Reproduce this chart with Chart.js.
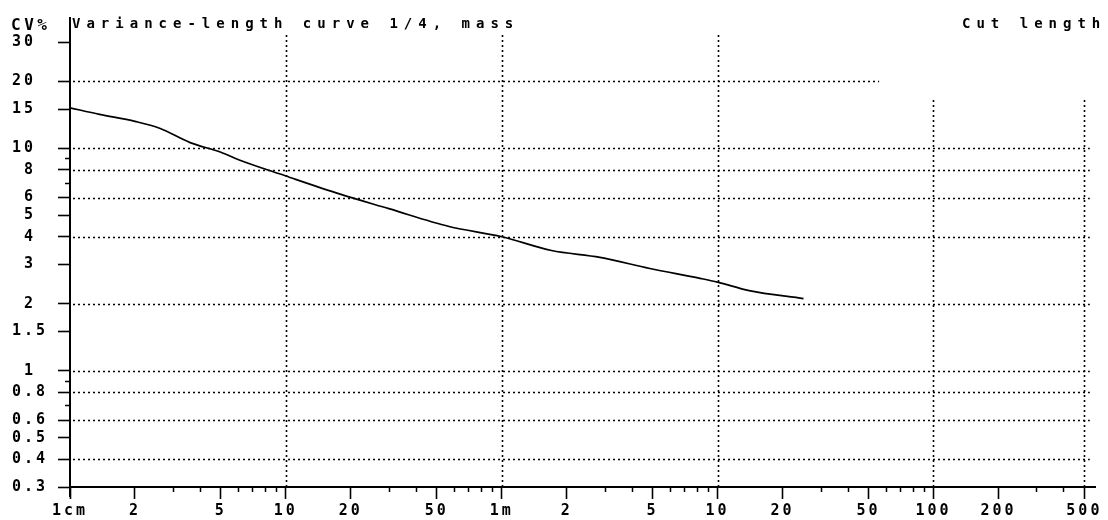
<!DOCTYPE html>
<html>
<head>
<meta charset="utf-8">
<title>Variance-length curve 1/4, mass</title>
<script src="https://cdn.jsdelivr.net/npm/chart.js@4.4.1/dist/chart.umd.min.js"></script>
<style>
  html, body { margin: 0; padding: 0; background: #fff; }
  #wrap { width: 1108px; height: 520px; }
</style>
</head>
<body>
<div id="wrap"><canvas id="cvChart"></canvas></div>
<script>
// ============================================================
// Variance-length curve (CV% against cut length, log-log)
// ============================================================

// ── Curve data ───────────────────────────────────────────────
// Cut length in metres, CV in percent
const cutLength = [0.01, 0.0137, 0.02, 0.026, 0.036, 0.05, 0.06, 0.1, 0.18,
                   0.3, 0.57, 1, 1.7, 2.85, 4.85, 8.3, 10, 14, 25];
const cvPercent = [15.2, 14.2, 13.2, 12.3, 10.6, 9.6, 8.9, 7.5, 6.2,
                   5.35, 4.45, 4.0, 3.47, 3.23, 2.88, 2.6, 2.5, 2.29, 2.11];

// ── Axis ticks ───────────────────────────────────────────────
const xTicks      = [0.01, 0.02, 0.05, 0.1, 0.2, 0.5, 1, 2, 5, 10, 20, 50, 100, 200, 500];
const xTickLabels = ['1cm', '2', '5', '10', '20', '50', '1m', '2', '5', '10', '20', '50', '100', '200', '500'];
const xMinorTicks = [0.03, 0.04, 0.06, 0.07, 0.08, 0.09, 0.3, 0.4, 0.6, 0.7, 0.8, 0.9,
                     3, 4, 6, 7, 8, 9, 30, 40, 60, 70, 80, 90, 300, 400];

const yTicks      = [30, 20, 15, 10, 8, 6, 5, 4, 3, 2, 1.5, 1, 0.8, 0.6, 0.5, 0.4, 0.3];
const yTickLabels = ['30', '20', '15', '10', ' 8', ' 6', ' 5', ' 4', ' 3', ' 2', '1.5', ' 1',
                     '0.8', '0.6', '0.5', '0.4', '0.3'];
const yMinorTicks = [9, 7, 0.9, 0.7];

// ── Dotted grid ──────────────────────────────────────────────
// Horizontal lines (CV%) and the length where each one stops,
// vertical lines (m) and the CV% they reach up to
const hGridValues = [20, 10, 8, 6, 4, 2, 1, 0.8, 0.6, 0.4];
const hGridEnds   = [56, 530, 530, 530, 530, 530, 530, 530, 530, 530];
const vGridValues = [0.1, 1, 10, 100, 500];
const vGridTops   = [33, 33, 33, 17, 17];

const MONO = "'DejaVu Sans Mono', 'Liberation Mono', monospace";


// ── Plugin: dotted grid lines ────────────────────────────────
const dottedGrid = {
    id: 'dottedGrid',
    beforeDatasetsDraw(chart) {
        const { ctx, chartArea, scales: { x, y } } = chart;
        ctx.save();
        ctx.strokeStyle = '#000';
        ctx.lineWidth = 1.6;
        ctx.setLineDash([2, 3]);

        hGridValues.forEach((v, i) => {
            const py = Math.round(y.getPixelForValue(v)) + 0.5;
            ctx.beginPath();
            ctx.moveTo(chartArea.left + 3, py);
            ctx.lineTo(x.getPixelForValue(hGridEnds[i]), py);
            ctx.stroke();
        });

        vGridValues.forEach((v, i) => {
            const px = Math.round(x.getPixelForValue(v)) + 0.5;
            ctx.beginPath();
            ctx.moveTo(px, chartArea.bottom);
            ctx.lineTo(px, y.getPixelForValue(vGridTops[i]));
            ctx.stroke();
        });
        ctx.restore();
    }
};

// ── Plugin: minor ticks + header texts ───────────────────────
const extras = {
    id: 'extras',
    beforeDraw(chart) {
        // wide letter spacing like the old plotter font
        chart.ctx.letterSpacing = '3px';
    },
    afterDraw(chart) {
        const { ctx, chartArea, scales: { x, y } } = chart;
        ctx.save();
        ctx.strokeStyle = '#000';
        ctx.lineWidth = 1.5;

        // y axis runs a little past the x axis
        ctx.lineWidth = 2;
        ctx.beginPath();
        ctx.moveTo(chartArea.left, chartArea.bottom);
        ctx.lineTo(chartArea.left, chartArea.bottom + 10);
        ctx.stroke();
        ctx.lineWidth = 1.5;

        // short ticks under the x axis
        xMinorTicks.forEach(v => {
            const px = Math.round(x.getPixelForValue(v)) + 0.5;
            ctx.beginPath();
            ctx.moveTo(px, chartArea.bottom);
            ctx.lineTo(px, chartArea.bottom + 5);
            ctx.stroke();
        });

        // short ticks left of the y axis
        yMinorTicks.forEach(v => {
            const py = Math.round(y.getPixelForValue(v)) + 0.5;
            ctx.beginPath();
            ctx.moveTo(chartArea.left, py);
            ctx.lineTo(chartArea.left - 5, py);
            ctx.stroke();
        });

        // header line
        ctx.fillStyle = '#000';
        ctx.textBaseline = 'alphabetic';
        ctx.textAlign = 'left';
        ctx.font = `bold 16px ${MONO}`;
        ctx.letterSpacing = '3.5px';
        ctx.fillText('CV%', 11, 30);

        ctx.font = `bold 14px ${MONO}`;
        ctx.letterSpacing = '6px';
        ctx.fillText('Variance-length curve 1/4, mass', 72, 28);
        ctx.fillText('Cut length', 962, 28);
        ctx.restore();
    }
};


// ── Build the chart ──────────────────────────────────────────
new Chart(document.getElementById('cvChart'), {
    type: 'line',
    data: {
        datasets: [{
            data:        cutLength.map((len, i) => ({ x: len, y: cvPercent[i] })),
            borderColor: '#000',
            borderWidth: 1.7,
            pointRadius: 0,
            cubicInterpolationMode: 'monotone'
        }]
    },
    options: {
        responsive:          true,
        maintainAspectRatio: false,
        animation:           false,
        layout: { padding: { top: 18, right: 13, left: 12, bottom: 0 } },
        plugins: {
            legend:  { display: false },
            tooltip: { enabled: false }
        },
        scales: {
            x: {
                type: 'logarithmic',
                min:  0.01,
                max:  560,
                afterBuildTicks: s => { s.ticks = xTicks.map(v => ({ value: v })); },
                afterFit:        s => { s.height = 33; },
                ticks: {
                    autoSkip:    false,
                    maxRotation: 0,
                    padding:     3,
                    color:       '#000',
                    font:        { family: MONO, size: 15, weight: 'bold' },
                    callback:    (val, i) => xTickLabels[i]
                },
                grid: {
                    drawOnChartArea: false,
                    tickLength:      12,
                    tickColor:       '#000',
                    tickWidth:       1.6
                },
                border: { color: '#000', width: 2 }
            },
            y: {
                type: 'logarithmic',
                min:  0.3,
                max:  38.5,
                afterBuildTicks: s => { s.ticks = yTicks.map(v => ({ value: v })); },
                afterFit:        s => { s.width = 58; },
                ticks: {
                    autoSkip:   false,
                    crossAlign: 'far',
                    color:      '#000',
                    font:       { family: MONO, size: 15, weight: 'bold' },
                    callback:   (val, i) => yTickLabels[i]
                },
                grid: {
                    drawOnChartArea: false,
                    tickLength:      12,
                    tickColor:       '#000',
                    tickWidth:       1.6
                },
                border: { color: '#000', width: 2 }
            }
        }
    },
    plugins: [dottedGrid, extras]
});
</script>
</body>
</html>
